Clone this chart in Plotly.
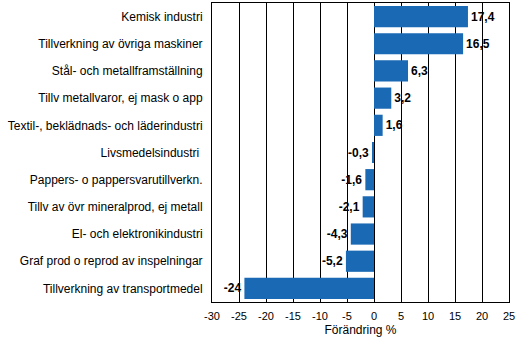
import plotly.graph_objects as go

# Industry branches, top to bottom as drawn
categories = [
    "Kemisk industri",
    "Tillverkning av övriga maskiner",
    "Stål- och metallframställning",
    "Tillv metallvaror, ej mask o app",
    "Textil-, beklädnads- och läderindustri",
    "Livsmedelsindustri ",
    "Pappers- o pappersvarutillverkn.",
    "Tillv av övr mineralprod, ej metall",
    "El- och elektronikindustri",
    "Graf prod o reprod av inspelningar",
    "Tillverkning av transportmedel",
]
# Change in percent
values = [17.4, 16.5, 6.3, 3.2, 1.6, -0.3, -1.6, -2.1, -4.3, -5.2, -24]
x_ticks = [-30, -25, -20, -15, -10, -5, 0, 5, 10, 15, 20, 25]

labels = [f"{v:g}".replace(".", ",") for v in values]

fig = go.Figure(
    go.Bar(
        x=values,
        y=categories,
        orientation="h",
        marker=dict(color="#1a69b4", line=dict(width=0)),
        text=labels,
        textposition="outside",
        cliponaxis=False,
        textfont=dict(family="Liberation Sans", size=12, color="black", weight="bold"),
    )
)

fig.update_layout(
    width=517,
    height=337,
    margin=dict(l=212, r=6, t=2, b=35),
    paper_bgcolor="white",
    plot_bgcolor="white",
    bargap=0.22,
    showlegend=False,
    font=dict(family="Liberation Sans", size=12, color="black"),
)

fig.update_xaxes(
    range=[-30, 25],
    tickvals=x_ticks,
    ticktext=[str(t) for t in x_ticks],
    showgrid=True,
    gridcolor="black",
    gridwidth=1,
    zeroline=False,
    showline=True,
    linecolor="black",
    linewidth=1,
    mirror=True,
    ticks="",
    ticklabeloverflow="allow",
    ticklabelstandoff=4,
    tickfont=dict(size=11),
    title=dict(text="Förändring %", font=dict(size=12), standoff=4),
)

fig.update_yaxes(
    autorange="reversed",
    showgrid=False,
    showline=True,
    linecolor="black",
    linewidth=1,
    mirror=True,
    ticks="",
    ticklabelstandoff=6,
    tickfont=dict(size=12),
)

fig.write_html("out.html")
